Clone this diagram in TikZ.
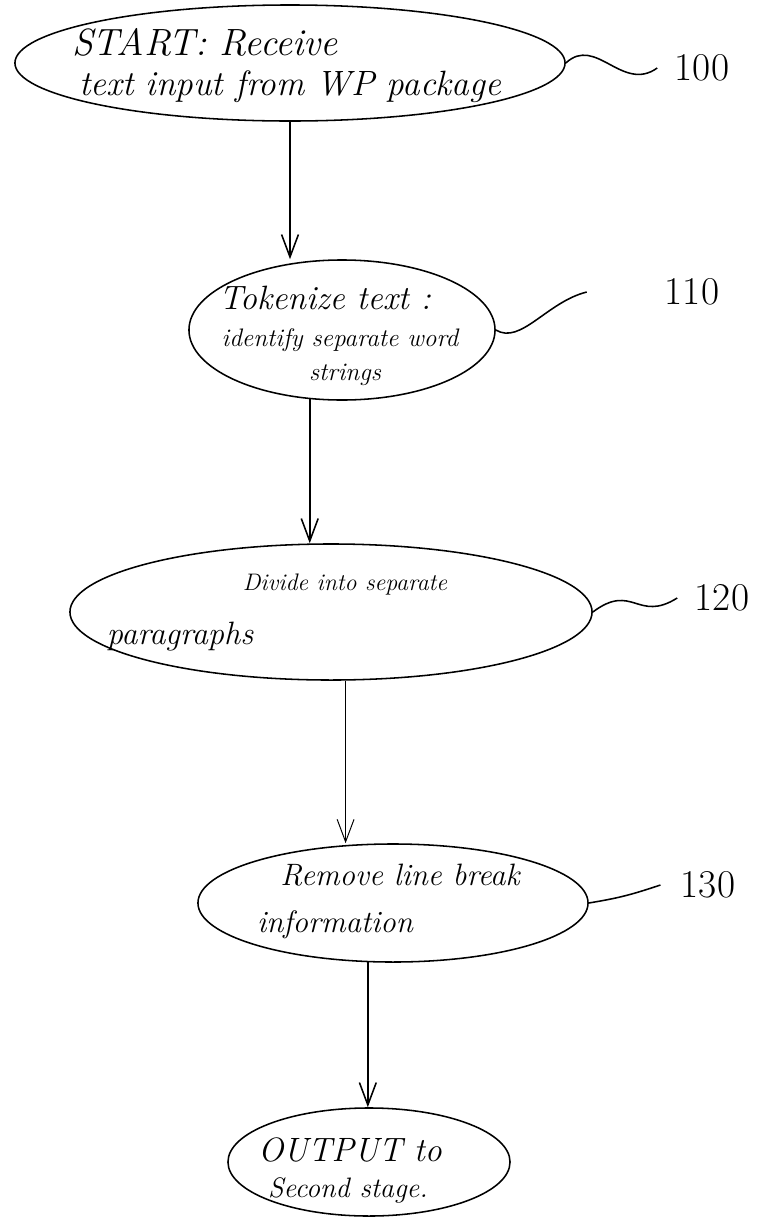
\documentclass[tikz,border=0pt]{standalone}
\usetikzlibrary{positioning, arrows.meta, shapes.geometric}

\begin{document}
\begin{tikzpicture}[x=0.025cm, y=-0.025cm, line width=1.1pt,
  oval/.style={draw, ellipse, inner sep=0pt},
  hand/.style={font=\itshape, inner sep=0pt},
  flow/.style={-{Straight Barb[length=16pt, width=12pt]}},
  refno/.style={font=\fontsize{28}{30}\selectfont, inner sep=0pt}]
\useasboundingbox (0,0) rectangle (757,1218);
% ovals
\node[oval, minimum width=13.75cm, minimum height=2.9cm] (e1) at (290,63) {};
\node[oval, minimum width=7.65cm, minimum height=3.5cm] (e2) at (342,330) {};
\node[oval, minimum width=13.05cm, minimum height=3.4cm] (e3) at (331,612) {};
\node[oval, minimum width=9.75cm, minimum height=2.95cm] (e4) at (393,903) {};
\node[oval, minimum width=7.05cm, minimum height=2.7cm] (e5) at (369,1162) {};
% texts
\node[hand, font=\itshape\fontsize{27}{30}\selectfont] (t1a) at (205,42) {START: Receive};
\node[hand, font=\itshape\fontsize{25}{28}\selectfont] (t1b) at (290,87) {text input from WP package};
\node[hand, font=\itshape\fontsize{24}{26}\selectfont] (t2a) at (325,298) {Tokenize text :};
\node[hand, font=\itshape\fontsize{18}{20}\selectfont] (t2b) at (340,340) {identify separate word};
\node[hand, font=\itshape\fontsize{18}{20}\selectfont] (t2c) at (345,375) {strings};
\node[hand, font=\itshape\fontsize{17}{19}\selectfont] (t3a) at (345,585) {Divide into separate};
\node[hand, font=\itshape\fontsize{23}{26}\selectfont] (t3b) at (180,637) {paragraphs};
\node[hand, font=\itshape\fontsize{22}{24}\selectfont] (t4a) at (400,875) {Remove line break};
\node[hand, font=\itshape\fontsize{22}{24}\selectfont] (t4b) at (335,925) {information};
\node[hand, font=\itshape\fontsize{24}{26}\selectfont] (t5a) at (350,1150) {OUTPUT to};
\node[hand, font=\itshape\fontsize{20}{22}\selectfont] (t5b) at (348,1190) {Second stage.};
% reference numbers
\node[refno] (n100) at (702,68) {100};
\node[refno] (n110) at (692,292) {110};
\node[refno] (n120) at (722,598) {120};
\node[refno] (n130) at (708,885) {130};
% leaders
\draw (e1.east) .. controls +(30,-28) and +(-35,25) .. ([xshift=-12pt]n100.west);
\draw (e2.east) .. controls +(25,15) and +(-40,10) .. ([xshift=-55pt]n110.west);
\draw (e3.east) .. controls +(40,-30) and +(-40,25) .. ([xshift=-12pt]n120.west);
\draw (e4.east) .. controls +(30,-5) and +(-30,10) .. ([xshift=-14pt]n130.west);
% arrows
\draw[flow] (e1.south) -- (e1.south |- e2.north);
\draw[flow] (e2.245) -- (e2.245 |- e3.north);
\draw[flow, line width=0.7pt] (e3.282) -- (e3.282 |- e4.north);
\draw[flow] (e4.247) -- (e4.247 |- e5.north);
\end{tikzpicture}
\end{document}
